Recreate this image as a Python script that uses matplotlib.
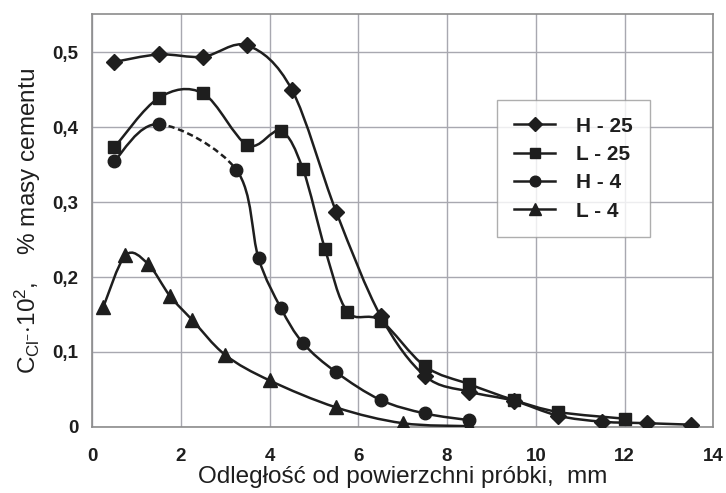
import numpy as np
import matplotlib.pyplot as plt
from matplotlib.path import Path
from matplotlib.patches import PathPatch
from matplotlib.ticker import FuncFormatter, MultipleLocator

plt.rcParams['font.family'] = 'Liberation Sans'
plt.rcParams['mathtext.fontset'] = 'custom'
plt.rcParams['mathtext.rm'] = 'Liberation Sans'
plt.rcParams['mathtext.it'] = 'Liberation Sans'

# data
h25_x = [0.5, 1.5, 2.5, 3.5, 4.5, 5.5, 6.5, 7.5, 8.5, 9.5, 10.5, 11.5, 12.5, 13.5]
h25_y = [0.487, 0.497, 0.494, 0.509, 0.450, 0.287, 0.148, 0.068, 0.047, 0.035, 0.015, 0.007, 0.005, 0.003]

l25_x = [0.5, 1.5, 2.5, 3.5, 4.25, 4.75, 5.25, 5.75, 6.5, 7.5, 8.5, 9.5, 10.5, 12.0]
l25_y = [0.373, 0.439, 0.445, 0.376, 0.395, 0.344, 0.237, 0.154, 0.142, 0.081, 0.057, 0.036, 0.020, 0.011]

h4_x = [0.5, 1.5, 3.25, 3.75, 4.25, 4.75, 5.5, 6.5, 7.5, 8.5]
h4_y = [0.355, 0.404, 0.343, 0.225, 0.159, 0.112, 0.073, 0.036, 0.018, 0.009]

l4_x = [0.25, 0.75, 1.25, 1.75, 2.25, 3.0, 4.0, 5.5, 7.0, 8.5]
l4_y = [0.160, 0.229, 0.218, 0.175, 0.143, 0.096, 0.062, 0.026, 0.005, 0.001]

series = [
    ('H - 25', h25_x, h25_y, 'D', 8, []),
    ('L - 25', l25_x, l25_y, 's', 8, []),
    ('H - 4', h4_x, h4_y, 'o', 9, [1]),   # segment 1 drawn dashed
    ('L - 4', l4_x, l4_y, '^', 10, []),
]

ink = '#1e1e1e'


def smooth_path(x, y, segs):
    # Catmull-Rom style bezier segments, like a spreadsheet "smoothed line"
    p = np.column_stack([x, y])
    n = len(p)
    verts, codes = [], []
    for i in segs:
        p0 = p[max(i - 1, 0)]
        p1 = p[i]
        p2 = p[i + 1]
        p3 = p[min(i + 2, n - 1)]
        c1 = p1 + (p2 - p0) / 6
        c2 = p2 - (p3 - p1) / 6
        verts += [p1, c1, c2, p2]
        codes += [Path.MOVETO, Path.CURVE4, Path.CURVE4, Path.CURVE4]
    return Path(verts, codes)


fig = plt.figure(figsize=(7.26, 4.93), dpi=100)
ax = fig.add_axes((0.127, 0.134, 0.8555, 0.8376))

for label, x, y, mk, ms, dashed in series:
    segs = [i for i in range(len(x) - 1) if i not in dashed]
    ax.add_patch(PathPatch(smooth_path(x, y, segs), fill=False, edgecolor=ink, lw=1.8, zorder=3))
    if dashed:
        ax.add_patch(PathPatch(smooth_path(x, y, dashed), fill=False, edgecolor=ink, lw=1.8,
                               linestyle=(0, (2.5, 1.5)), zorder=3))
    ax.plot(x, y, linestyle='none', marker=mk, markersize=ms, color=ink, zorder=4)
    ax.plot([], [], color=ink, lw=1.8, marker=mk, markersize=ms * 0.85, label=label)

ax.set_xlim(0, 14)
ax.set_ylim(0, 0.551)
ax.xaxis.set_major_locator(MultipleLocator(2))
ax.yaxis.set_major_locator(MultipleLocator(0.1))
ax.yaxis.set_major_formatter(FuncFormatter(lambda v, p: '0' if abs(v) < 1e-9 else ('%.1f' % v).replace('.', ',')))
ax.grid(True, color='#a8a8b0', lw=1.0)
ax.set_axisbelow(True)
for s in ax.spines.values():
    s.set_color('#8c8c8c')
    s.set_linewidth(1.2)
ax.tick_params(length=0, labelsize=13.5, colors=ink)
ax.tick_params(axis='x', pad=15)
ax.tick_params(axis='y', pad=10)
for t in ax.get_xticklabels() + ax.get_yticklabels():
    t.set_fontweight('bold')

ax.set_xlabel('Odległość od powierzchni próbki,  mm', fontsize=17.5, color=ink, labelpad=1)
ax.set_ylabel(r'C$_{\mathrm{Cl}^{\mathrm{-}}}$$\cdot$10$^{2}$,    % masy cementu', fontsize=17.5,
              color=ink, labelpad=7)

leg = ax.legend(loc='upper left', bbox_to_anchor=(0.652, 0.792), frameon=True, fancybox=False,
                borderaxespad=0, edgecolor='#9a9a9a', handlelength=2.0, handletextpad=1.0,
                labelspacing=0.45, borderpad=0.8, prop={'weight': 'bold', 'size': 15})
leg.get_frame().set_linewidth(1.0)
for t in leg.get_texts():
    t.set_color(ink)

fig.savefig('out.png', dpi=100)
